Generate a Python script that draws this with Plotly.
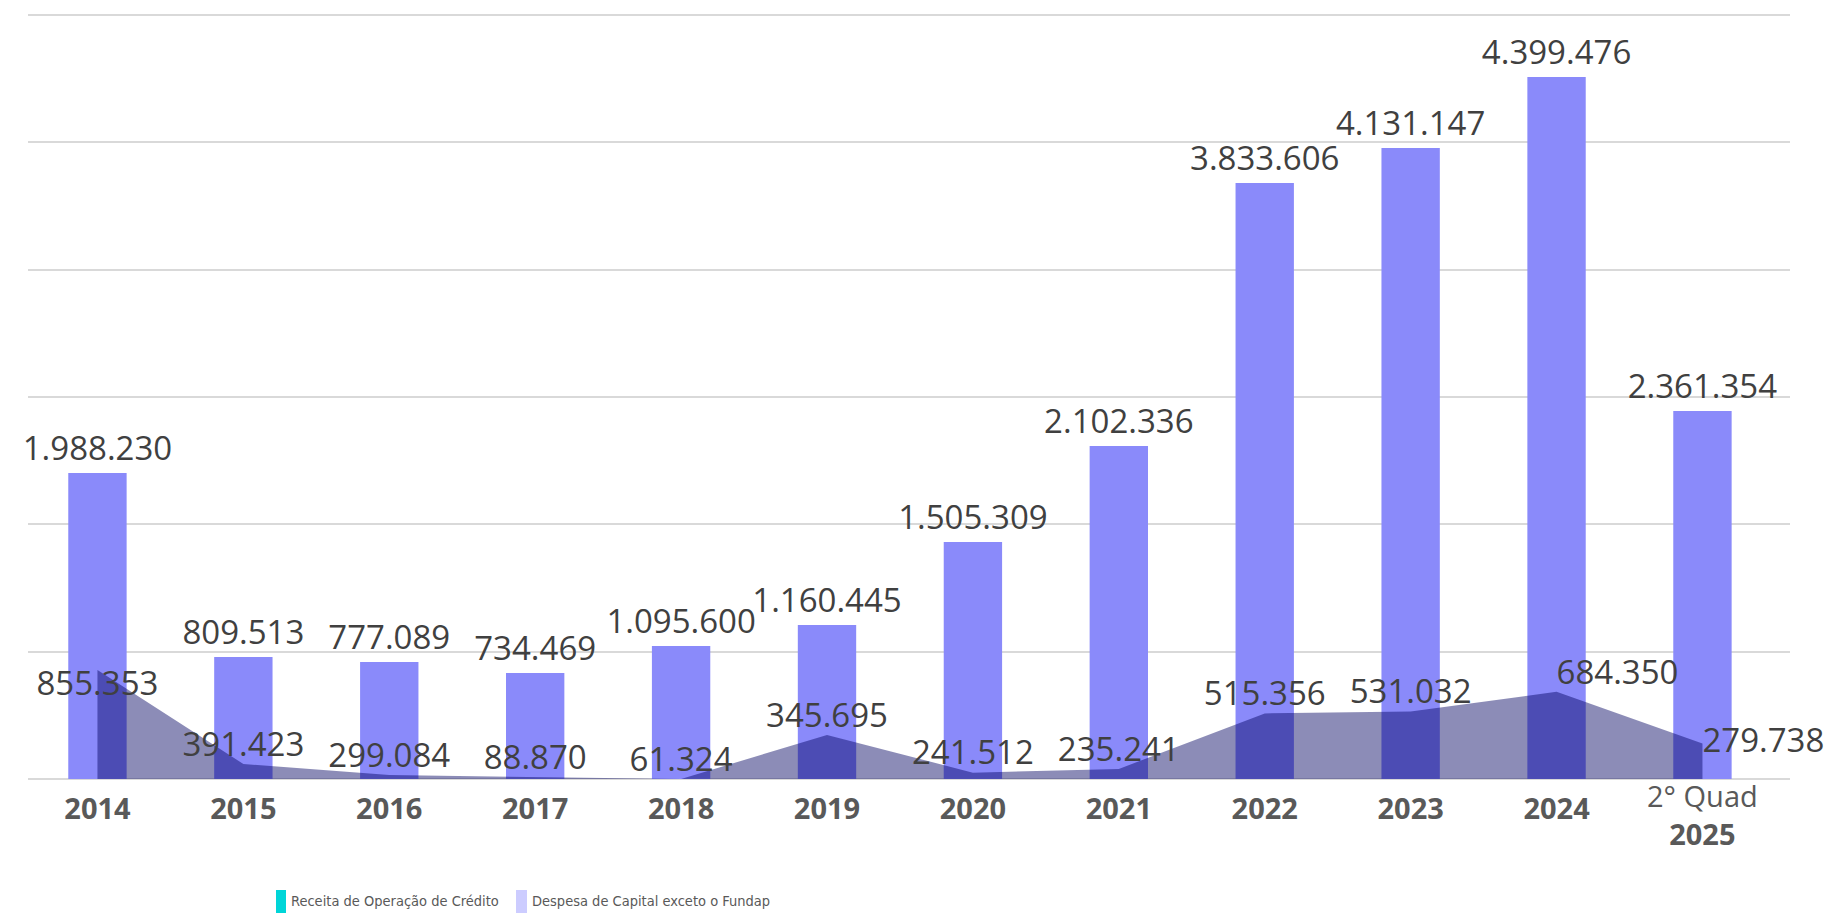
import plotly.graph_objects as go

# ---- data ----
categories = ["2014", "2015", "2016", "2017", "2018", "2019", "2020",
              "2021", "2022", "2023", "2024", "2° Quad 2025"]
tick_labels = ["<b>2014</b>", "<b>2015</b>", "<b>2016</b>", "<b>2017</b>",
               "<b>2018</b>", "<b>2019</b>", "<b>2020</b>", "<b>2021</b>",
               "<b>2022</b>", "<b>2023</b>", "<b>2024</b>", ""]
last_tick_text = "2° Quad<br><b>2025</b>"

# Despesa de Capital exceto o Fundap (bar heights)
despesa_values = [2403000, 958000, 919000, 832000, 1044000, 1209000,
                  1861000, 2615000, 4681000, 4955000, 5513000, 2890000]
despesa_labels = ["1.988.230", "809.513", "777.089", "734.469", "1.095.600",
                  "1.160.445", "1.505.309", "2.102.336", "3.833.606",
                  "4.131.147", "4.399.476", "2.361.354"]

# Receita de Operação de Crédito (area heights)
receita_values = [855353, 118000, 31000, 16000, 0, 345695,
                  50000, 79000, 515356, 531032, 684350, 279738]
receita_labels = ["855.353", "391.423", "299.084", "88.870", "61.324",
                  "345.695", "241.512", "235.241", "515.356", "531.032",
                  "684.350", "279.738"]
receita_text_pos = ["bottom center"] + ["top center"] * 9 + ["top right", "middle right"]

legend_names = ["Receita de Operação de Crédito", "Despesa de Capital exceto o Fundap"]
legend_colors = ["#00D5D8", "#CCCCFF"]

gridlines = [0, 1000000, 2000000, 3000000, 4000000, 5000000, 6000000]

# ---- style ----
BAR_COLOR = "#8A8AFA"
AREA_FILL = "rgba(0,0,95,0.45)"
VAL_FONT = dict(family="Open Sans", size=33, color="#404040")
TICK_FONT = dict(family="Open Sans", size=29, color="#595959")

W, H = 1841, 919
ML, MR, MT, MB = 28, 51, 9, 140
PW, PH = W - ML - MR, H - MT - MB
Y_MAX = 6000000 * PH / 764.0


def px_x(p):
    return (p - ML) / PW


def px_y(p):
    return (H - MB - p) / PH


fig = go.Figure()

fig.add_trace(go.Bar(
    x=categories, y=despesa_values,
    marker=dict(color=BAR_COLOR, line=dict(width=0)),
    text=despesa_labels, textposition="outside", constraintext="none",
    textfont=VAL_FONT, cliponaxis=False,
    name=legend_names[1], showlegend=False, hoverinfo="skip",
))

fig.add_trace(go.Scatter(
    x=categories, y=receita_values, mode="lines",
    line=dict(width=0, color=AREA_FILL), fill="tozeroy", fillcolor=AREA_FILL,
    name=legend_names[0], showlegend=False, hoverinfo="skip",
))

fig.add_trace(go.Scatter(
    x=categories, y=receita_values, mode="text",
    text=receita_labels, textposition=receita_text_pos,
    textfont=VAL_FONT, cliponaxis=False,
    showlegend=False, hoverinfo="skip",
))

shapes = []
annotations = []

# two-line label of the last category
annotations.append(dict(xref="x", yref="paper", x=categories[-1], y=px_y(814),
                        xanchor="center", yanchor="middle", showarrow=False,
                        text=last_tick_text, font=TICK_FONT))

# manual legend
legend_items = [(276, 286, 289), (516, 527, 530)]
for (x0, x1, tx), name, col in zip(legend_items, legend_names, legend_colors):
    shapes.append(dict(type="rect", xref="paper", yref="paper",
                       x0=px_x(x0), x1=px_x(x1), y0=px_y(913), y1=px_y(890),
                       fillcolor=col, line=dict(width=0)))
    annotations.append(dict(xref="paper", yref="paper", x=px_x(tx), y=px_y(901),
                            xanchor="left", yanchor="middle", showarrow=False,
                            text=name,
                            font=dict(family="Liberation Sans Narrow, DejaVu Sans Condensed, Open Sans",
                                      size=14.5, color="#595959")))

fig.update_layout(
    width=W, height=H,
    margin=dict(l=ML, r=MR, t=MT, b=MB),
    paper_bgcolor="white", plot_bgcolor="white",
    bargap=0.6,
    showlegend=False,
    shapes=shapes, annotations=annotations,
    xaxis=dict(type="category", range=[-0.476, 11.60],
               tickmode="array", tickvals=categories, ticktext=tick_labels,
               tickfont=TICK_FONT, ticklabelstandoff=10,
               ticks="", showgrid=False, showline=False, zeroline=False),
    yaxis=dict(range=[0, Y_MAX], tickmode="array", tickvals=gridlines,
               showticklabels=False,
               showgrid=True, gridcolor="#D9D9D9", gridwidth=2,
               zeroline=True, zerolinecolor="#D9D9D9", zerolinewidth=2,
               ticks=""),
)

fig.write_html("out.html")
